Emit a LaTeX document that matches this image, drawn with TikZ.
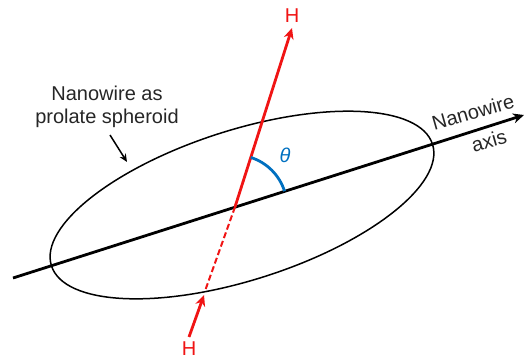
\documentclass[tikz,border=0pt]{standalone}
\usepackage{fontspec}
\setmainfont{Liberation Sans}
\usetikzlibrary{arrows.meta}
\definecolor{hred}{RGB}{240,20,20}
\definecolor{tblue}{RGB}{0,112,192}
\begin{document}
\begin{tikzpicture}[x=1pt,y=1pt,
  lbl/.style={font=\fontsize{20}{22}\selectfont, text=black!85, inner sep=0pt},
  hlbl/.style={font=\fontsize{20}{22}\selectfont, text=hred, inner sep=0pt},
  axisline/.style={line width=2.8pt, black},
  redline/.style={line width=2.8pt, hred},
  tip/.style={-{Stealth[length=11pt,width=10pt]}}]
\useasboundingbox (0,0) rectangle (525,359);
% coordinates
\coordinate (A0) at (13,81);
\coordinate (A1) at (524,244);
\coordinate (C) at (242,154);
\coordinate (O) at (235,152);
\coordinate (T) at (292,331);
\coordinate (E) at (205,68);
\coordinate (B0) at (189,22);
\coordinate (B1) at (204,64);
% ellipse
\draw[line width=1.5pt, rotate around={17.7:(C)}] (C) ellipse[x radius=200, y radius=75];
% axis
\draw[axisline, tip] (A0) -- (A1);
% red field
\draw[redline, tip] (O) -- (T);
\draw[redline, line width=2pt, dash pattern=on 6pt off 3pt] (O) -- (E);
\draw[redline, tip] (B0) -- (B1);
% theta arc
\draw[tblue, line width=2.8pt] (O) ++(72.3:52) arc[start angle=72.3, end angle=17.7, radius=52];
\node[font=\fontsize{20}{22}\selectfont\itshape, text=tblue, inner sep=0pt] (th) at (285,204) {θ};
% labels
\node[hlbl] (Htop) at (292,343) {H};
\node[hlbl] (Hbot) at (189,10) {H};
\node[lbl, align=center] (spher) at (107,252) {Nanowire as\\[1pt]prolate spheroid};
\coordinate (L0) at (110,224);
\coordinate (L1) at (127,197);
\draw[line width=1.5pt, -{Stealth[length=8pt,width=7pt]}] (L0) -- (L1);
\node[lbl, rotate=16] (ax1) at (473,247) {Nanowire};
\node[lbl, rotate=16] (ax2) at (489,218) {axis};
\end{tikzpicture}
\end{document}
